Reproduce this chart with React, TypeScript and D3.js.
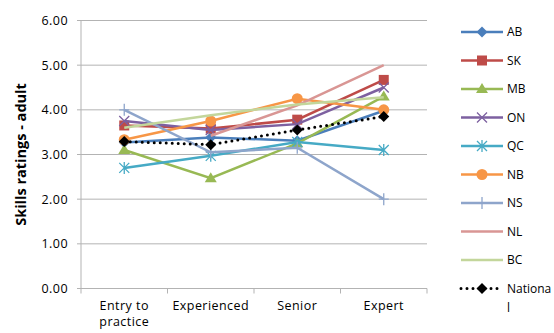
import React from "react";
import * as d3 from "d3";

const categories = ["Entry to practice", "Experienced", "Senior", "Expert"];
const yTicks = [0, 1, 2, 3, 4, 5, 6];

const seriesNames = ["AB", "SK", "MB", "ON", "QC", "NB", "NS", "NL", "BC", "National"];
const AB = [3.27, 3.38, 3.31, 3.98];
const SK = [3.65, 3.58, 3.78, 4.67];
const MB = [3.1, 2.47, 3.25, 4.3];
const ON = [3.75, 3.55, 3.68, 4.5];
const QC = [2.7, 2.97, 3.28, 3.1];
const NB = [3.33, 3.75, 4.25, 4.0];
const NS = [4.0, 3.05, 3.15, 2.0];
const NL = [null, 3.42, 4.1, 5.0];
const BC = [3.6, 3.88, 4.12, 4.28];
const National = [3.29, 3.22, 3.55, 3.85];

const seriesValues: (number | null)[][] = [AB, SK, MB, ON, QC, NB, NS, NL, BC, National];
const colors = ["#4a7ebb", "#be4b48", "#98b954", "#7d60a0", "#46aac5", "#f79646", "#8ea5cb", "#d99694", "#c3d69b", "#000000"];
const markers = ["diamond", "square", "triangle", "x", "asterisk", "circle", "plus", "none", "none", "diamond"];

const FONT = "'Open Sans', sans-serif";
const FS = 12.5;
const LS = 0.45;

function Marker({ type, x, y, color }: { type: string; x: number; y: number; color: string }) {
  const s = 5.5;
  switch (type) {
    case "diamond":
      return <path d={`M${x},${y - s}L${x + s},${y}L${x},${y + s}L${x - s},${y}Z`} fill={color} />;
    case "square":
      return <rect x={x - 5} y={y - 5} width={10} height={10} fill={color} />;
    case "triangle":
      return <path d={`M${x},${y - 6}L${x + 6},${y + 4}L${x - 6},${y + 4}Z`} fill={color} />;
    case "circle":
      return <circle cx={x} cy={y} r={5.5} fill={color} />;
    case "x":
      return (
        <path d={`M${x - 5},${y - 5}L${x + 5},${y + 5}M${x - 5},${y + 5}L${x + 5},${y - 5}`} stroke={color} strokeWidth={1.3} />
      );
    case "asterisk":
      return (
        <path
          d={`M${x - 5},${y - 5}L${x + 5},${y + 5}M${x - 5},${y + 5}L${x + 5},${y - 5}M${x},${y - 6}L${x},${y + 6}`}
          stroke={color}
          strokeWidth={1.3}
        />
      );
    case "plus":
      return <path d={`M${x},${y - 6}L${x},${y + 6}M${x - 5},${y}L${x + 5},${y}`} stroke={color} strokeWidth={1.3} />;
    default:
      return null;
  }
}

export default function App() {
  const width = 554;
  const height = 333;
  const left = 81;
  const right = 427;
  const top = 20.5;
  const bottom = 288.5;

  const x = d3.scaleBand<string>().domain(categories).range([left, right]);
  const y = d3.scaleLinear().domain([0, 6]).range([bottom, top]);
  const cx = (c: string) => (x(c) as number) + x.bandwidth() / 2;

  const line = d3
    .line<number | null>()
    .defined((d) => d !== null)
    .x((_, i) => cx(categories[i]))
    .y((d) => y(d as number));

  const tickXs = [...categories.map((c) => x(c) as number), right];

  return (
    <svg width={width} height={height} style={{ position: "absolute", left: 0, top: 0 }}>
      <rect width={width} height={height} fill="#fff" />
      {yTicks.map((t) => (
        <g key={t}>
          {t > 0 && <line x1={left} x2={right} y1={y(t)} y2={y(t)} stroke="#b3b3b3" strokeWidth={1} />}
          <line x1={left - 4} x2={left} y1={y(t)} y2={y(t)} stroke="#b3b3b3" />
          <text
            x={left - 13}
            y={y(t)}
            dy="0.35em"
            textAnchor="end"
            fontFamily={FONT}
            fontSize={FS}
            letterSpacing={LS}
            fill="#000"
          >
            {t.toFixed(2)}
          </text>
        </g>
      ))}
      <line x1={left} x2={left} y1={top} y2={bottom} stroke="#b3b3b3" />
      <line x1={left} x2={right} y1={bottom} y2={bottom} stroke="#b3b3b3" />
      {tickXs.map((tx, i) => (
        <line key={i} x1={tx} x2={tx} y1={bottom} y2={bottom + 5} stroke="#b3b3b3" />
      ))}
      {categories.map((c) => {
        const parts = c === "Entry to practice" ? ["Entry to", "practice"] : [c];
        return (
          <text
            key={c}
            x={cx(c)}
            y={310}
            textAnchor="middle"
            fontFamily={FONT}
            fontSize={FS}
            letterSpacing={LS}
            fill="#000"
          >
            {parts.map((p, i) => (
              <tspan key={i} x={cx(c)} dy={i === 0 ? 0 : 16}>
                {p}
              </tspan>
            ))}
          </text>
        );
      })}
      <text
        transform={`translate(26,${(top + bottom) / 2}) rotate(-90)`}
        textAnchor="middle"
        fontFamily={FONT}
        fontSize={14.5}
        fontWeight="bold"
        fill="#000"
      >
        Skills ratings - adult
      </text>

      {seriesValues.map((vals, si) => (
        <g key={seriesNames[si]}>
          <path
            d={line(vals) || ""}
            fill="none"
            stroke={colors[si]}
            strokeWidth={si === 9 ? 3 : 2.5}
            strokeDasharray={si === 9 ? "0 6" : undefined}
            strokeLinecap={si === 9 ? "round" : "butt"}
          />
          {vals.map((v, i) =>
            v === null ? null : <Marker key={i} type={markers[si]} x={cx(categories[i])} y={y(v)} color={colors[si]} />
          )}
        </g>
      ))}

      {seriesNames.map((n, i) => {
        const ly = 32 + i * 28.5;
        return (
          <g key={n}>
            <line
              x1={461}
              x2={503}
              y1={ly}
              y2={ly}
              stroke={colors[i]}
              strokeWidth={i === 9 ? 3 : 2.5}
              strokeDasharray={i === 9 ? "0 6" : undefined}
              strokeLinecap={i === 9 ? "round" : "butt"}
            />
            <Marker type={markers[i]} x={482} y={ly} color={colors[i]} />
            <text x={507} y={ly} dy="0.35em" fontFamily={FONT} fontSize={12} fill="#000">
              {n === "National" ? (
                <>
                  <tspan x={507}>Nationa</tspan>
                  <tspan x={507} dy={19}>
                    l
                  </tspan>
                </>
              ) : (
                n
              )}
            </text>
          </g>
        );
      })}
    </svg>
  );
}
